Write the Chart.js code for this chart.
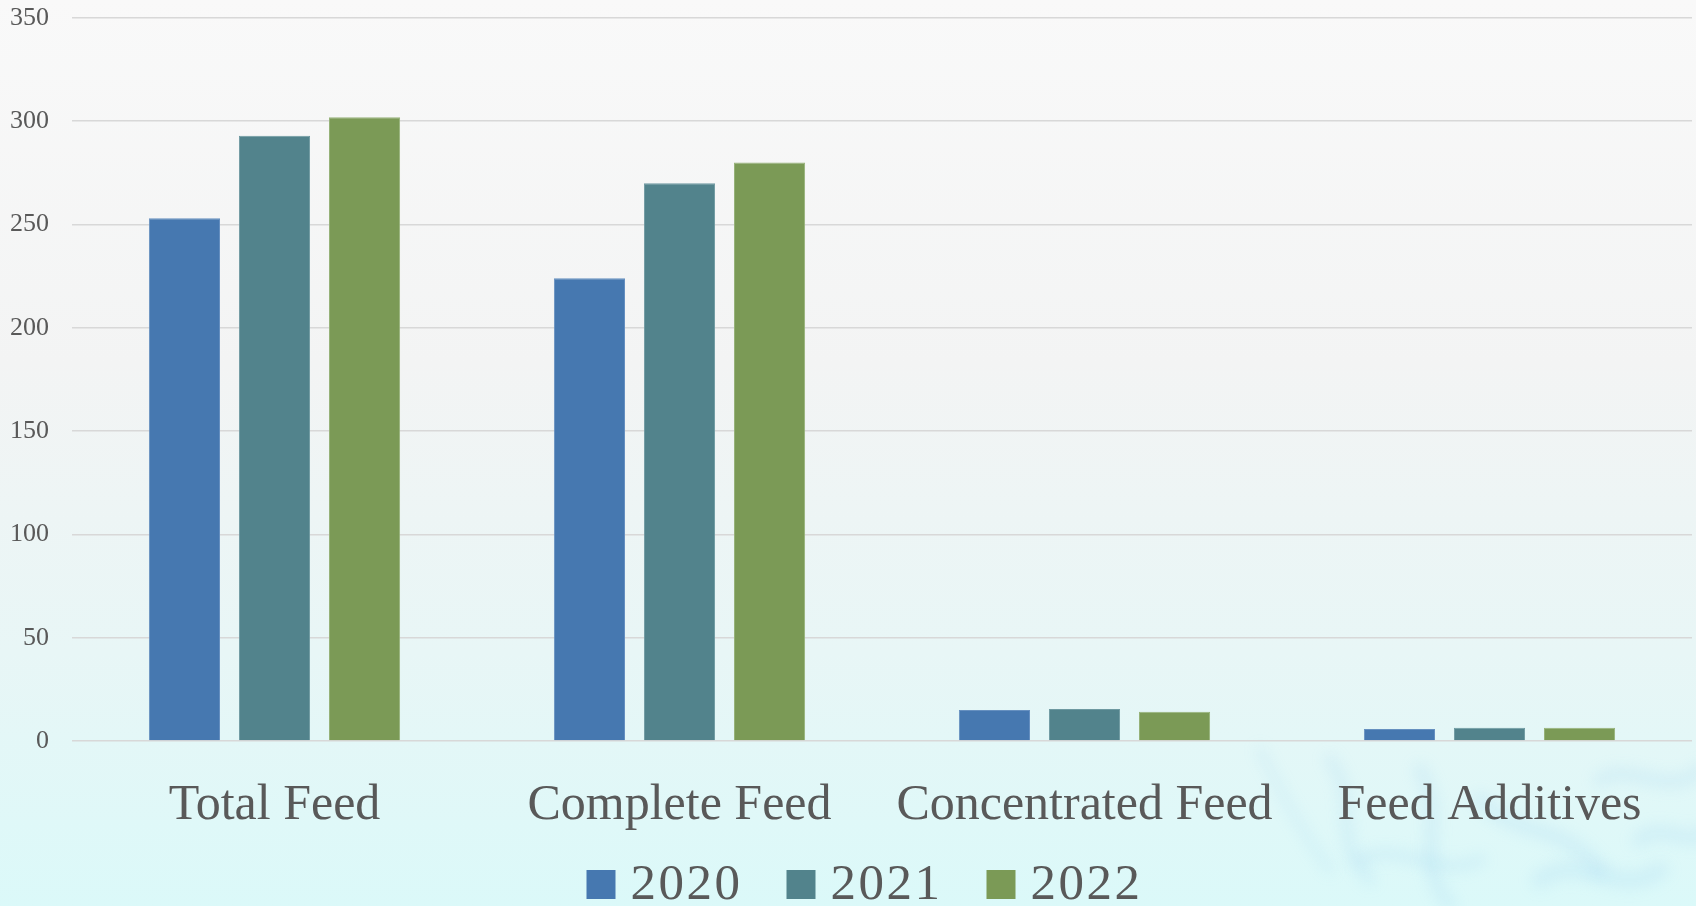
<!DOCTYPE html>
<html>
<head>
<meta charset="utf-8">
<script src="https://cdn.jsdelivr.net/npm/chart.js@4.4.1/dist/chart.umd.min.js"></script>
<style>
  html, body { margin: 0; padding: 0; width: 1696px; height: 906px; overflow: hidden; background: #f4f6f6; }
  #wrap { position: relative; width: 1696px; height: 906px; }
  canvas { display: block; }
</style>
</head>
<body>
<div id="wrap"><canvas id="c" width="1696" height="906"></canvas></div>
<script>
const categories = ['Total Feed', 'Complete Feed', 'Concentrated Feed', 'Feed Additives'];
const seriesNames = ['2020', '2021', '2022'];
const values2020 = [253, 224, 15.0, 5.8];
const values2021 = [293, 270, 15.5, 6.4];
const values2022 = [302, 280, 14.2, 6.4];
const yTicks = [0, 50, 100, 150, 200, 250, 300, 350];

const fillColors = ['#4678b0', '#52838c', '#7b9a56'];
const edgeColors = ['#6690c0', '#6e99a1', '#97b37a'];
const textColor = '#595959';
const serif = '"Liberation Serif", "Times New Roman", serif';

const backgroundPlugin = {
  id: 'bg',
  beforeDraw(chart) {
    const ctx = chart.ctx;
    const w = chart.width, h = chart.height;
    ctx.save();
    const g = ctx.createLinearGradient(0, 0, 0, h);
    g.addColorStop(0, '#f9f9f9');
    g.addColorStop(0.4, '#f3f4f4');
    g.addColorStop(0.72, '#e8f6f6');
    g.addColorStop(1, '#dbf9f9');
    ctx.fillStyle = g;
    ctx.fillRect(0, 0, w, h);
    // faint decorative swirl texture, bottom-right
    ctx.filter = 'blur(7px)';
    ctx.lineCap = 'round';
    const strokes = [
      [1330, 760, 1360, 800, 1330, 840, 1370, 880, 12],
      [1420, 770, 1450, 820, 1410, 860, 1450, 905, 14],
      [1480, 800, 1520, 840, 1560, 820, 1600, 870, 16],
      [1540, 880, 1580, 850, 1620, 900, 1660, 870, 18],
      [1600, 780, 1630, 760, 1670, 800, 1700, 770, 14],
      [1360, 860, 1400, 840, 1440, 880, 1480, 860, 12],
      [1640, 840, 1660, 820, 1690, 850, 1710, 830, 16],
      [1260, 750, 1280, 790, 1300, 830, 1330, 870, 8]
    ];
    strokes.forEach(s => {
      ctx.strokeStyle = 'rgba(140,205,240,0.16)';
      ctx.lineWidth = s[8];
      ctx.beginPath();
      ctx.moveTo(s[0], s[1]);
      ctx.bezierCurveTo(s[2], s[3], s[4], s[5], s[6], s[7]);
      ctx.stroke();
    });
    ctx.filter = 'none';
    ctx.restore();
  }
};

const legendPlugin = {
  id: 'customLegend',
  afterDraw(chart) {
    const ctx = chart.ctx;
    ctx.save();
    ctx.font = '51px ' + serif;
    try { ctx.letterSpacing = '2.5px'; } catch (e) {}
    const box = 29, gap = 15, itemGap = 44;
    const items = chart.data.datasets.map(ds => ({ text: ds.label, color: ds.backgroundColor, w: ctx.measureText(ds.label).width }));
    const total = items.reduce((a, it) => a + box + gap + it.w, 0) + itemGap * (items.length - 1);
    let x = 864.5 - total / 2;
    const boxTop = 870, baseline = 899;
    items.forEach(it => {
      ctx.fillStyle = it.color;
      ctx.fillRect(x, boxTop, box, box);
      ctx.fillStyle = textColor;
      ctx.textBaseline = 'alphabetic';
      ctx.textAlign = 'left';
      ctx.fillText(it.text, x + box + gap, baseline);
      x += box + gap + it.w + itemGap;
    });
    ctx.restore();
  }
};

const allValues = [values2020, values2021, values2022];
new Chart(document.getElementById('c'), {
  type: 'bar',
  data: {
    labels: categories,
    datasets: seriesNames.map((name, i) => ({
      label: name,
      data: allValues[i],
      backgroundColor: fillColors[i],
      borderColor: edgeColors[i],
      borderWidth: 1,
      categoryPercentage: 0.667,
      barPercentage: 0.79
    }))
  },
  options: {
    responsive: false,
    animation: false,
    devicePixelRatio: 1,
    layout: { padding: { top: 18, right: 4, bottom: 45, left: 0 } },
    plugins: {
      legend: { display: false },
      tooltip: { enabled: false }
    },
    scales: {
      x: {
        grid: { display: false, drawTicks: false },
        border: { display: false },
        ticks: { color: textColor, font: { family: serif, size: 50 }, padding: 35, maxRotation: 0, autoSkip: false },
        afterFit(scale) { scale.height = 120; scale.paddingLeft = 0; scale.paddingRight = 0; }
      },
      y: {
        min: 0,
        max: 350,
        afterBuildTicks(scale) { scale.ticks = yTicks.map(v => ({ value: v })); },
        grid: { color: '#d8d8d8', lineWidth: 1.6, drawTicks: false },
        border: { display: false },
        ticks: { color: textColor, font: { family: serif, size: 26 }, padding: 23 },
        afterFit(scale) { scale.width = 72; scale.paddingTop = 0; scale.paddingBottom = 0; }
      }
    }
  },
  plugins: [backgroundPlugin, legendPlugin]
});
</script>
</body>
</html>
